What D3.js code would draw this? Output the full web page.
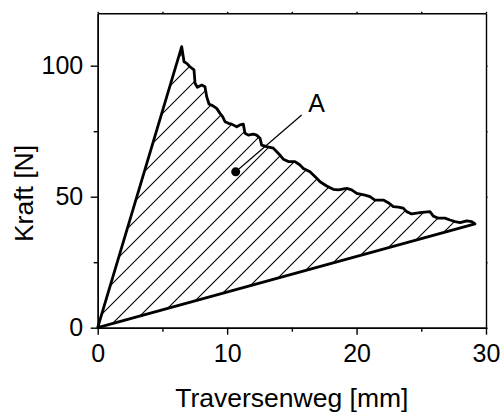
<!DOCTYPE html>
<html>
<head>
<meta charset="utf-8">
<script src="https://cdn.jsdelivr.net/npm/d3@7"></script>
<style>
  html, body { margin: 0; padding: 0; background: #fff; }
  svg { display: block; }
  text { font-family: "Liberation Sans", Arial, sans-serif; fill: #000; }
</style>
</head>
<body>
<svg id="chart" width="501" height="413"></svg>
<script>
// ---- data ----
const xTicks = [0, 10, 20, 30];
const xMinorTicks = [5, 15, 25];
const yTicks = [0, 50, 100];
const yMinorTicks = [25, 75];
const xTitle = "Traversenweg [mm]";
const yTitle = "Kraft [N]";

// loading branch (start -> peak)
const loadX = [0, 6.49];
const loadY = [0, 107.25];

// decreasing (crack growth) branch after the peak
const curveX = [6.67, 6.88, 7.13, 7.44, 7.52, 7.70, 8.04, 8.29, 8.42, 8.60, 8.93, 9.19, 9.45, 9.66, 9.84,
  10.09, 10.35, 10.74, 10.99, 11.25, 11.38, 11.64, 12.02, 12.28, 12.54, 12.67, 13.06, 13.57, 14.08, 14.34,
  14.73, 15.24, 15.63, 15.89, 16.40, 16.92, 17.18, 17.69, 18.20, 18.59, 19.24, 19.62, 20.01, 20.65, 21.04,
  21.42, 22.07, 22.45, 22.84, 23.23, 23.61, 23.87, 24.26, 24.90, 25.67, 25.93, 26.32, 26.83, 27.22, 27.61,
  28.00, 28.51, 28.90, 29.15];
const curveY = [101.5, 100.9, 99.6, 98.4, 93.3, 91.8, 92.6, 92.0, 88.2, 85.4, 84.6, 83.7, 81.8, 80.5, 78.6,
  78.0, 77.7, 76.7, 77.4, 77.7, 74.2, 73.5, 73.9, 73.5, 72.3, 69.7, 69.1, 68.5, 65.9, 64.3,
  63.4, 63.4, 62.1, 60.8, 59.5, 57.0, 55.7, 54.1, 52.8, 52.6, 53.2, 52.6, 51.3, 50.6, 50.0,
  48.7, 48.7, 47.7, 46.2, 46.0, 45.6, 44.3, 43.4, 43.9, 44.3, 42.6, 41.8, 41.8, 41.1, 40.5,
  40.1, 40.8, 40.5, 39.6];

// unloading branch (end -> origin)
const unloadX = [29.15, 0];
const unloadY = [39.6, 0];

// annotation A
const markX = [10.66];
const markY = [59.5];
const leaderX = [10.66, 15.76];
const leaderY = [59.5, 81.2];
const labelText = ["A"];
const labelX = [16.92];
const labelY = [82.2];

// ---- layout ----
const svg = d3.select("#chart");
const x = d3.scaleLinear().domain([0, 30]).range([97.7, 486]);
const y = d3.scaleLinear().domain([0, 120]).range([327.7, 13.3]);
const [x0, x1] = x.range();
const [y0, y1] = y.range();

// full closed outline
const pts = [];
loadX.forEach((v, i) => pts.push([v, loadY[i]]));
curveX.forEach((v, i) => pts.push([v, curveY[i]]));
unloadX.forEach((v, i) => pts.push([v, unloadY[i]]));

const line = d3.line().x(d => x(d[0])).y(d => y(d[1]));

// clip for hatching
svg.append("defs").append("clipPath").attr("id", "area-clip")
  .append("path").attr("d", line(pts) + "Z");

// hatching: 45° lines in screen space
const hatchG = svg.append("g").attr("clip-path", "url(#area-clip)");
const step = 20, phase = 376;
for (let c = phase - step * 30; c < phase + step * 30; c += step) {
  hatchG.append("line")
    .attr("x1", c - y0).attr("y1", y0)
    .attr("x2", c - y1).attr("y2", y1)
    .attr("stroke", "#000").attr("stroke-width", 1.1);
}

// main curve
svg.append("path")
  .attr("d", line(pts) + "Z")
  .attr("fill", "none")
  .attr("stroke", "#000")
  .attr("stroke-width", 2.8)
  .attr("stroke-linejoin", "round");

// leader + dot + label
svg.append("line")
  .attr("x1", x(leaderX[0])).attr("y1", y(leaderY[0]))
  .attr("x2", x(leaderX[1])).attr("y2", y(leaderY[1]))
  .attr("stroke", "#000").attr("stroke-width", 1.2);
svg.selectAll("circle.mark").data(markX).enter().append("circle")
  .attr("class", "mark")
  .attr("cx", d => x(d)).attr("cy", (d, i) => y(markY[i]))
  .attr("r", 4.5).attr("fill", "#000");
svg.selectAll("text.lab").data(labelText).enter().append("text")
  .attr("class", "lab")
  .attr("x", (d, i) => x(labelX[i])).attr("y", (d, i) => y(labelY[i]))
  .attr("text-anchor", "middle")
  .style("font-size", "25px")
  .text(d => d);

// ---- axes ----
function styleAxis(g) {
  g.selectAll("path.domain").attr("stroke", "#000").attr("stroke-width", 1.4);
  g.selectAll(".tick line").attr("stroke", "#000").attr("stroke-width", 1.4);
}
const fontSize = "25px";

// bottom
const gxMinor = svg.append("g").attr("transform", `translate(0,${y0})`)
  .call(d3.axisBottom(x).tickValues(xMinorTicks).tickSize(4).tickFormat("").tickSizeOuter(0));
styleAxis(gxMinor);
const gx = svg.append("g").attr("transform", `translate(0,${y0})`)
  .call(d3.axisBottom(x).tickValues(xTicks).tickSize(7).tickPadding(10).tickSizeOuter(0).tickFormat(d3.format("d")));
styleAxis(gx);
gx.selectAll("text").style("font-size", fontSize).attr("fill", "#000").attr("font-family", null);

// left
const gyMinor = svg.append("g").attr("transform", `translate(${x0},0)`)
  .call(d3.axisLeft(y).tickValues(yMinorTicks).tickSize(4).tickFormat("").tickSizeOuter(0));
styleAxis(gyMinor);
const gy = svg.append("g").attr("transform", `translate(${x0},0)`)
  .call(d3.axisLeft(y).tickValues(yTicks).tickSize(7).tickPadding(7.5).tickSizeOuter(0).tickFormat(d3.format("d")));
styleAxis(gy);
gy.selectAll("text").style("font-size", fontSize).attr("fill", "#000").attr("font-family", null);

// top & right (tiny ticks)
const gt = svg.append("g").attr("transform", `translate(0,${y1})`)
  .call(d3.axisTop(x).tickValues(xTicks.concat(xMinorTicks)).tickSize(1.5).tickFormat("").tickSizeOuter(0));
styleAxis(gt);
const gr = svg.append("g").attr("transform", `translate(${x1},0)`)
  .call(d3.axisRight(y).tickValues(yTicks.concat(yMinorTicks)).tickSize(1.5).tickFormat("").tickSizeOuter(0));
styleAxis(gr);

// titles
svg.append("text")
  .attr("x", (x0 + x1) / 2).attr("y", 406.5)
  .attr("text-anchor", "middle")
  .style("font-size", "26.5px")
  .text(xTitle);
svg.append("text")
  .attr("transform", `translate(33,${(y0 + y1) / 2 + 23}) rotate(-90)`)
  .attr("text-anchor", "middle")
  .style("font-size", "26.5px")
  .text(yTitle);
</script>
</body>
</html>
